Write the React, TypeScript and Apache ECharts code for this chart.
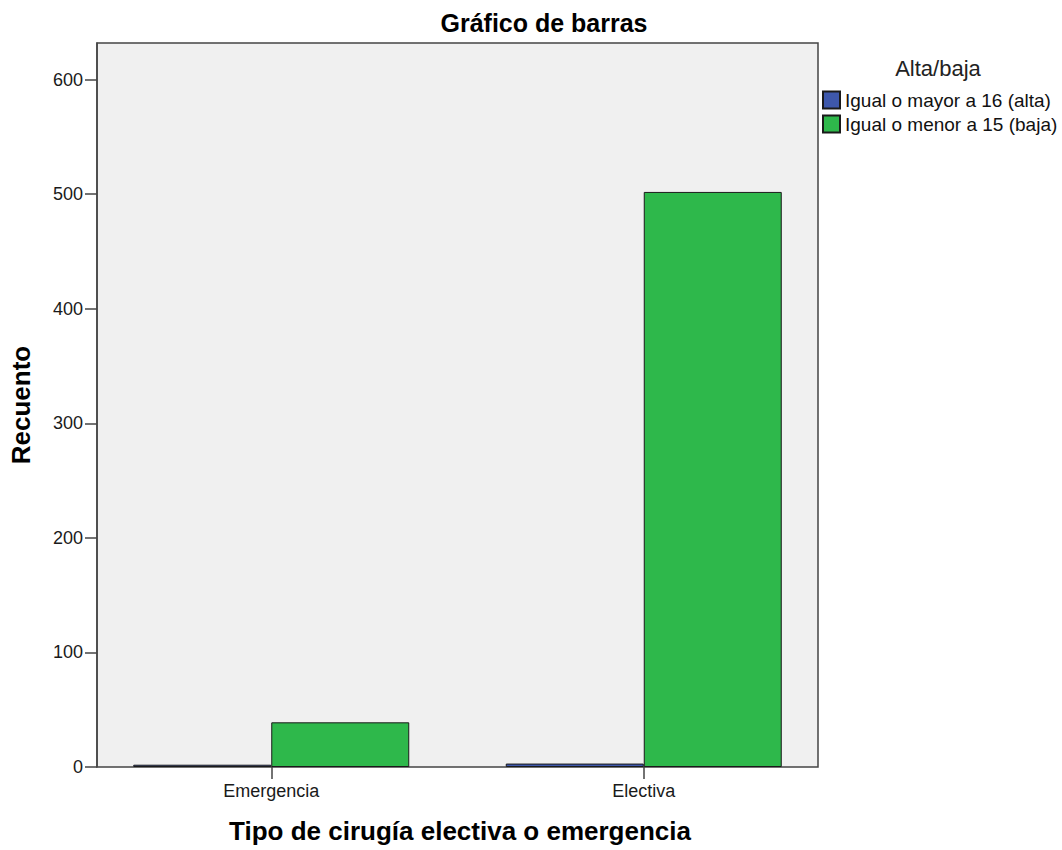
import React, { useEffect, useRef } from "react";
import * as echarts from "echarts";

const categories = ["Emergencia", "Electiva"];
const seriesNames = ["Igual o mayor a 16 (alta)", "Igual o menor a 15 (baja)"];
const altaValues = [2, 3];
const bajaValues = [39, 502];
const yTicks = [0, 100, 200, 300, 400, 500, 600];
const yMax = 632;

const FONT = "Liberation Sans";

export default function App() {
  const ref = useRef<HTMLDivElement>(null);
  useEffect(() => {
    document.body.style.margin = "0";
    const chart = echarts.init(ref.current!, null, { renderer: "svg" });
    chart.setOption({
      animation: false,
      backgroundColor: "#ffffff",
      textStyle: { fontFamily: FONT },
      title: {
        text: "Gráfico de barras",
        left: 539,
        top: 5,
        textAlign: "center",
        textStyle: { fontFamily: FONT, fontSize: 25, fontWeight: "bold", color: "#000" },
      },
      legend: {
        orient: "vertical",
        left: 817,
        top: 85,
        itemWidth: 17,
        itemHeight: 17,
        itemGap: 4,
        icon: "rect",
        textStyle: { fontFamily: FONT, fontSize: 19, lineHeight: 20, color: "#111" },
        data: seriesNames,
      },
      grid: [
        {
          left: 97,
          top: 43,
          width: 721,
          height: 724,
          show: true,
          backgroundColor: "#f0f0f0",
          borderColor: "#444",
          borderWidth: 1.5,
        },
        { left: 85, top: 43, width: 745, height: 724 },
      ],
      xAxis: [
        { type: "category", gridIndex: 0, data: categories, show: false },
        {
          type: "category",
          gridIndex: 1,
          data: categories,
          axisLine: { show: false },
          axisTick: { show: true, alignWithLabel: true, length: 12, lineStyle: { color: "#444", width: 1.5 } },
          axisLabel: { fontFamily: FONT, fontSize: 18, color: "#1a1a1a", margin: 15 },
          name: "Tipo de cirugía electiva o emergencia",
          nameLocation: "middle",
          nameGap: 51,
          nameTextStyle: { fontFamily: FONT, fontSize: 26, fontWeight: "bold", color: "#000", padding: [0, 0, 0, 5] },
        },
      ],
      yAxis: [
        {
          type: "value",
          gridIndex: 0,
          min: 0,
          max: yMax,
          axisLine: { show: true, lineStyle: { color: "#444", width: 1.5 } },
          axisTick: { show: true, length: 12, customValues: yTicks, lineStyle: { color: "#444", width: 1.5 } },
          axisLabel: { customValues: yTicks, fontFamily: FONT, fontSize: 18, color: "#1a1a1a", margin: 14 },
          splitLine: { show: false },
          name: "Recuento",
          nameLocation: "middle",
          nameGap: 63,
          nameTextStyle: { fontFamily: FONT, fontSize: 26, fontWeight: "bold", color: "#000" },
        },
        {
          type: "value",
          gridIndex: 1,
          min: 0,
          max: yMax,
          show: false,
          splitLine: { show: false },
        },
      ],
      graphic: [
        {
          type: "text",
          x: 938,
          y: 68,
          style: {
            text: "Alta/baja",
            fontFamily: FONT,
            fontSize: 22,
            fill: "#222",
            textAlign: "center",
            textVerticalAlign: "middle",
          },
        },
      ],
      series: [
        {
          name: seriesNames[0],
          type: "bar",
          xAxisIndex: 1,
          yAxisIndex: 1,
          data: altaValues,
          barWidth: 138,
          barGap: "0%",
          itemStyle: { color: "#3e58ac", borderColor: "#1a1a1a", borderWidth: 1 },
        },
        {
          name: seriesNames[1],
          type: "bar",
          xAxisIndex: 1,
          yAxisIndex: 1,
          data: bajaValues,
          barWidth: 138,
          barGap: "0%",
          itemStyle: { color: "#2eb84b", borderColor: "#1a1a1a", borderWidth: 1 },
        },
      ],
    });
    return () => chart.dispose();
  }, []);
  return <div ref={ref} style={{ width: 1062, height: 850 }} />;
}
